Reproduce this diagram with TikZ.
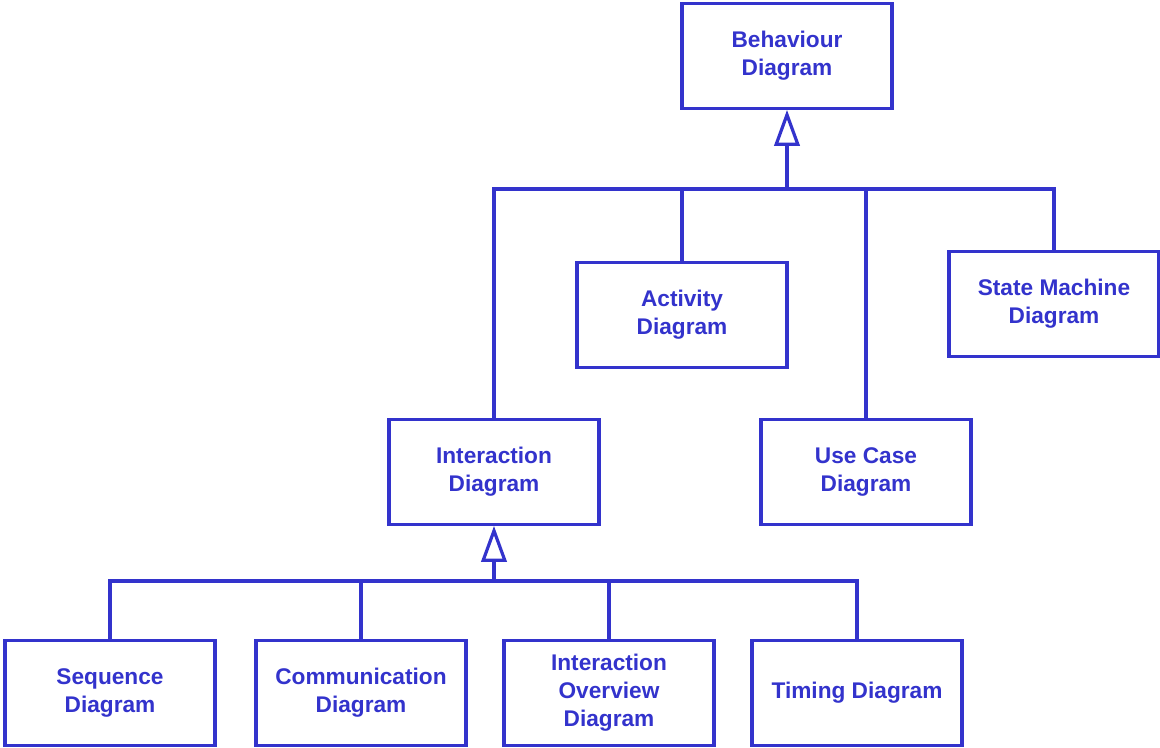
\documentclass[tikz,border=0pt]{standalone}
\usepackage{fontspec}
\setmainfont{Liberation Sans}
\usetikzlibrary{arrows.meta}
\definecolor{umlblue}{HTML}{3333CC}
\tikzset{
  diag/.style={draw=umlblue, line width=2.4pt, minimum width=157.5pt, minimum height=78.5pt,
    align=center, text=umlblue, font=\fontsize{17}{21}\selectfont\bfseries, inner sep=2pt},
  link/.style={draw=umlblue, line width=2.4pt},
  gen/.style={link, -{Triangle[open, length=27pt, width=19pt, line width=2.4pt]}}
}
\begin{document}
\begin{tikzpicture}[x=0.75pt, y=-0.75pt]
	\useasboundingbox (0,0) rectangle (1160,747);
	\node[diag] (beh) at (787,56) {Behaviour\\Diagram};
	\node[diag] (act) at (682,315) {Activity\\Diagram};
	\node[diag] (sm) at (1054,304) {State Machine\\Diagram};
	\node[diag] (inter) at (494,472) {Interaction\\Diagram};
	\node[diag] (uc) at (866,472) {Use Case\\Diagram};
	\node[diag] (seq) at (110,693) {Sequence\\Diagram};
	\node[diag] (comm) at (361,693) {Communication\\Diagram};
	\node[diag] (iov) at (609,693) {Interaction\\Overview\\Diagram};
	\node[diag] (tim) at (857,693) {Timing Diagram};
	
	\coordinate (busA) at (787,189);
	\coordinate (busB) at (494,581);
	
	% behaviour branch
	\draw [gen] (busA) -- (beh.south);
	\draw [link] (inter.north) |- (busA);
	\draw [link] (act.north) |- (busA);
	\draw [link] (uc.north) |- (busA);
	\draw [link] (sm.north) |- (busA);
	
	% interaction branch
	\draw [gen] (busB) -- (inter.south);
	\draw [link] (seq.north) |- (busB);
	\draw [link] (comm.north) |- (busB);
	\draw [link] (iov.north) |- (busB);
	\draw [link] (tim.north) |- (busB);
\end{tikzpicture}
\end{document}
